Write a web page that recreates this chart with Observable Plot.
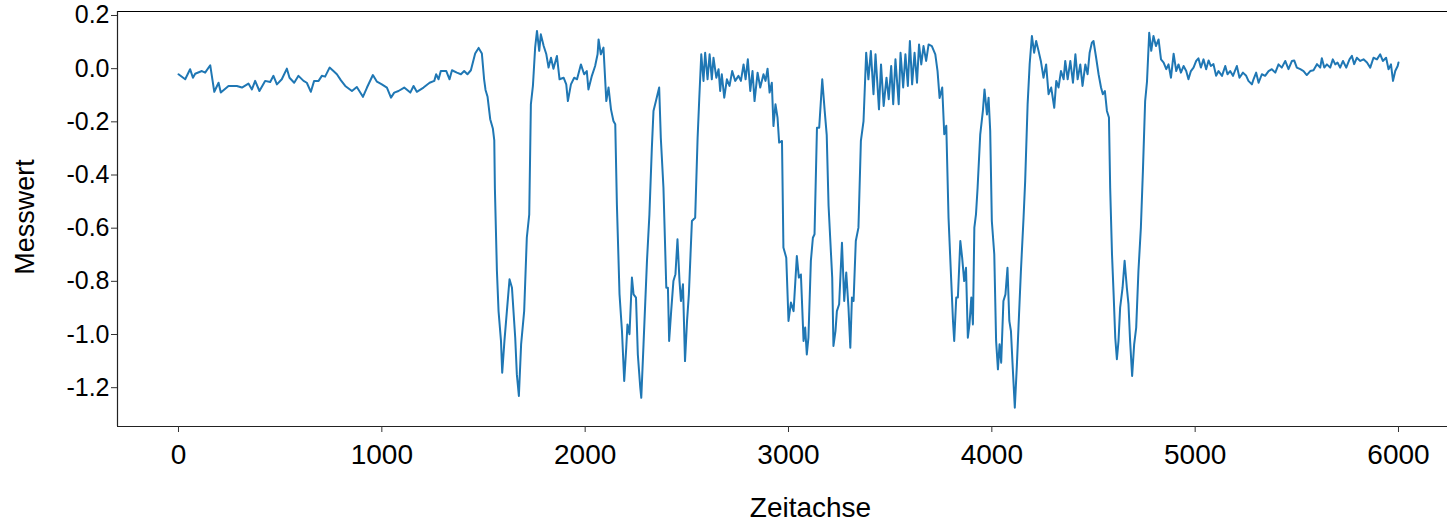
<!DOCTYPE html>
<html><head><meta charset="utf-8">
<script src="https://cdn.jsdelivr.net/npm/d3@7"></script>
<script src="https://cdn.jsdelivr.net/npm/@observablehq/plot@0.6"></script>
<style>html,body{margin:0;padding:0;background:#fff}svg{display:block}</style>
</head><body><div id="chart"></div>
<script>
const zeit = [
0,33,57,71,82,115,131,156,164,176,
197,208,246,287,312,344,361,377,398,426,
451,467,484,508,533,546,569,590,615,631,
651,667,689,705,721,743,762,779,799,820,
853,877,907,927,956,976,1000,1025,1045,1061,
1082,1110,1140,1156,1172,1205,1235,1258,1267,1279,
1290,1317,1333,1345,1369,1389,1405,1421,1438,1459,
1476,1492,1503,1510,1520,1533,1546,1553,1556,1566,
1574,1586,1592,1603,1615,1628,1640,1656,1664,1674,
1685,1700,1713,1725,1733,1743,1754,1763,1774,1782,
1796,1809,1820,1832,1844,1861,1874,1894,1907,1915,
1930,1946,1960,1979,1995,2008,2016,2033,2049,2061,
2066,2077,2090,2104,2115,2127,2139,2148,2156,2169,
2181,2192,2202,2208,2218,2230,2238,2250,2259,2271,
2276,2287,2304,2316,2328,2336,2348,2356,2364,2372,
2385,2399,2407,2413,2423,2434,2444,2454,2464,2471,
2481,2491,2501,2510,2525,2541,2553,2561,2571,2582,
2590,2602,2612,2623,2631,2645,2656,2664,2672,2684,
2697,2710,2723,2738,2754,2766,2779,2789,2800,2812,
2823,2833,2848,2861,2877,2887,2897,2907,2918,2926,
2936,2946,2954,2968,2975,2989,3000,3012,3025,3041,
3051,3061,3074,3082,3090,3098,3110,3120,3128,3140,
3151,3166,3178,3188,3197,3205,3215,3221,3231,3238,
3249,3263,3274,3284,3295,3304,3312,3320,3331,3344,
3356,3369,3382,3393,3405,3418,3428,3445,3455,3468,
3482,3493,3505,3515,3526,3542,3551,3564,3575,3587,
3597,3608,3620,3632,3642,3653,3664,3677,3689,3705,
3722,3733,3743,3756,3766,3776,3787,3799,3809,3815,
3825,3833,3845,3854,3864,3873,3882,3890,3899,3907,
3914,3922,3930,3943,3956,3964,3976,3984,3992,4000,
4012,4021,4030,4038,4046,4057,4067,4077,4086,4094,
4102,4113,4123,4131,4143,4156,4164,4176,4186,4197,
4208,4218,4230,4241,4254,4267,4279,4292,4307,4317,
4328,4340,4353,4361,4373,4386,4399,4411,4422,4435,
4446,4460,4471,4481,4492,4500,4513,4525,4537,4546,
4556,4566,4576,4582,4591,4599,4607,4615,4623,4631,
4643,4653,4664,4672,4680,4690,4700,4710,4721,4733,
4743,4754,4763,4774,4784,4795,4807,4820,4832,4845,
4858,4869,4881,4894,4907,4918,4930,4943,4956,4967,
4979,4992,5005,5016,5028,5041,5054,5066,5077,5090,
5103,5115,5132,5148,5159,5172,5186,5205,5218,5235,
5251,5262,5279,5287,5300,5312,5328,5344,5361,5377,
5394,5410,5426,5443,5459,5476,5487,5500,5517,5533,
5549,5566,5582,5599,5615,5623,5635,5648,5664,5677,
5689,5700,5713,5727,5743,5759,5771,5782,5795,5812,
5828,5845,5861,5877,5894,5910,5923,5939,5951,5963,
5973,5984,5996,6000
];
const messwert = [
-0.021,-0.04,-0.002,-0.034,-0.019,-0.009,-0.015,0.013,-0.027,-0.087,
-0.053,-0.09,-0.065,-0.065,-0.071,-0.056,-0.078,-0.046,-0.084,-0.046,
-0.05,-0.027,-0.059,-0.04,0.0,-0.034,-0.053,-0.027,-0.046,-0.053,
-0.087,-0.046,-0.046,-0.027,-0.03,0.004,-0.009,-0.021,-0.044,-0.065,
-0.084,-0.069,-0.106,-0.071,-0.024,-0.049,-0.059,-0.071,-0.109,-0.09,
-0.084,-0.071,-0.09,-0.065,-0.087,-0.071,-0.053,-0.046,-0.021,-0.04,
-0.009,-0.009,-0.04,-0.006,-0.015,-0.021,-0.009,-0.021,-0.006,0.057,
0.078,0.057,-0.04,-0.08,-0.106,-0.19,-0.225,-0.27,-0.45,-0.761,
-0.912,-1.024,-1.144,-1.024,-0.912,-0.792,-0.824,-1.012,-1.15,-1.231,
-1.037,-0.912,-0.636,-0.548,-0.134,-0.065,0.079,0.142,0.067,0.129,
0.085,0.054,0.004,0.041,0.0,0.048,-0.04,-0.034,-0.059,-0.122,
-0.059,-0.034,-0.04,0.016,-0.021,-0.009,-0.078,-0.027,0.01,0.054,
0.11,0.054,0.079,-0.122,-0.071,-0.153,-0.197,-0.209,-0.51,-0.849,
-0.987,-1.175,-1.05,-0.962,-0.999,-0.786,-0.849,-0.861,-1.075,-1.2,
-1.238,-1.037,-0.723,-0.548,-0.297,-0.159,-0.122,-0.096,-0.071,-0.26,
-0.448,-0.824,-0.824,-1.024,-0.912,-0.799,-0.773,-0.642,-0.799,-0.874,
-0.811,-1.1,-0.949,-0.849,-0.573,-0.561,-0.26,-0.115,0.054,-0.046,
0.06,-0.04,0.054,-0.04,0.041,-0.034,-0.002,-0.084,-0.021,-0.109,
-0.04,-0.065,-0.009,-0.046,-0.027,-0.046,0.016,-0.04,0.035,-0.084,
-0.009,-0.122,-0.015,-0.071,-0.021,-0.046,0.0,-0.09,-0.053,-0.216,
-0.134,-0.184,-0.278,-0.272,-0.673,-0.711,-0.949,-0.88,-0.912,-0.705,
-0.786,-0.774,-1.024,-0.974,-1.075,-1.012,-0.723,-0.636,-0.623,-0.222,
-0.222,-0.04,-0.159,-0.25,-0.515,-0.636,-0.786,-1.043,-0.987,-0.912,
-0.886,-0.655,-0.874,-0.767,-0.899,-1.05,-0.861,-0.874,-0.648,-0.598,
-0.272,-0.197,0.06,-0.04,0.066,-0.096,0.054,-0.153,0.016,-0.14,
-0.034,-0.115,0.01,-0.134,0.035,-0.134,0.06,-0.071,0.054,-0.065,
0.104,-0.059,0.06,-0.053,0.091,0.016,0.085,0.029,0.091,0.085,
0.054,-0.009,-0.11,-0.071,-0.247,-0.215,-0.56,-0.774,-0.949,-1.024,
-0.861,-0.861,-0.648,-0.711,-0.799,-0.749,-1.012,-0.962,-0.861,-0.962,
-0.598,-0.548,-0.448,-0.247,-0.159,-0.078,-0.172,-0.109,-0.234,-0.573,
-0.698,-1.024,-1.131,-1.037,-1.106,-0.874,-0.849,-0.749,-0.949,-0.987,
-1.112,-1.275,-1.118,-0.974,-0.761,-0.561,-0.422,-0.134,0.016,0.123,
0.06,0.104,0.066,0.029,-0.034,0.016,-0.096,-0.071,-0.147,-0.046,
-0.071,-0.009,-0.04,0.029,-0.04,0.029,-0.053,0.054,-0.04,0.016,
-0.065,0.016,-0.021,0.06,0.098,0.104,0.041,-0.021,-0.071,-0.096,
-0.084,-0.159,-0.184,-0.448,-0.698,-0.849,-1.012,-1.093,-1.024,-0.899,
-0.824,-0.723,-0.824,-0.886,-1.024,-1.156,-1.037,-0.974,-0.761,-0.598,
-0.385,-0.122,-0.05,0.135,0.067,0.123,0.085,0.11,0.035,0.023,
-0.002,0.016,-0.034,0.056,-0.009,0.016,-0.015,0.01,-0.009,-0.04,
-0.009,0.004,0.029,0.039,0.004,0.035,-0.002,0.031,0.01,0.017,
-0.027,-0.009,-0.027,0.01,-0.021,-0.009,-0.027,0.01,-0.034,-0.015,
-0.027,-0.046,-0.059,-0.04,-0.015,-0.053,-0.021,-0.027,-0.009,-0.002,
-0.015,0.016,0.004,0.029,-0.002,0.029,0.031,0.004,-0.002,-0.009,
-0.024,-0.009,-0.006,0.017,0.004,0.039,0.004,0.016,0.004,0.035,
0.016,0.023,0.004,0.029,0.004,0.035,0.048,0.017,0.041,0.029,
0.035,0.023,0.004,0.041,0.035,0.054,0.029,0.041,-0.002,0.016,
-0.046,-0.009,0.01,0.023
];
const xTicks = [0, 1000, 2000, 3000, 4000, 5000, 6000];
const yTicks = [0.2, 0.0, -0.2, -0.4, -0.6, -0.8, -1.0, -1.2];
const xLabel = "Zeitachse";
const yLabel = "Messwert";

const n = Math.min(zeit.length, messwert.length);
const data = d3.range(n).map(i => ({t: zeit[i], v: messwert[i]}));
const xDomain = [-300, 6241];
const yDomain = [-1.346, 0.215];

const chart = Plot.plot({
  width: 1447,
  height: 524,
  marginLeft: 117,
  marginRight: 0,
  marginTop: 11,
  marginBottom: 98,
  style: {fontFamily: "'Liberation Sans', Arial, Helvetica, sans-serif", color: "#000", background: "#fff"},
  x: {domain: xDomain},
  y: {domain: yDomain},
  marks: [
    Plot.ruleY([yDomain[1]], {stroke: "#000", strokeWidth: 1}),
    Plot.ruleY([yDomain[0]], {stroke: "#222", strokeWidth: 1.2}),
    Plot.ruleX([xDomain[0]], {stroke: "#222", strokeWidth: 1.2}),
    Plot.axisX({ticks: xTicks, tickSize: 6, tickPadding: 12, fontSize: 28, tickFormat: d => String(d), label: null, stroke: "#333"}),
    Plot.axisY({ticks: yTicks, tickSize: 6, tickPadding: 2, fontSize: 25, tickFormat: d => d.toFixed(1), label: null, stroke: "#333"}),
    Plot.text([xLabel], {text: d => d, frameAnchor: "bottom", dx: 28, dy: 82, fontSize: 28, fill: "#000", lineAnchor: "middle"}),
    Plot.text([yLabel], {text: d => d, frameAnchor: "left", rotate: -90, dx: -92, dy: -2, fontSize: 27, fill: "#000", textAnchor: "middle", lineAnchor: "middle"}),
    Plot.lineY(data, {x: "t", y: "v", stroke: "#1f77b4", strokeWidth: 2, strokeLinejoin: "round"})
  ]
});
document.getElementById("chart").appendChild(chart);
</script>
</body></html>
